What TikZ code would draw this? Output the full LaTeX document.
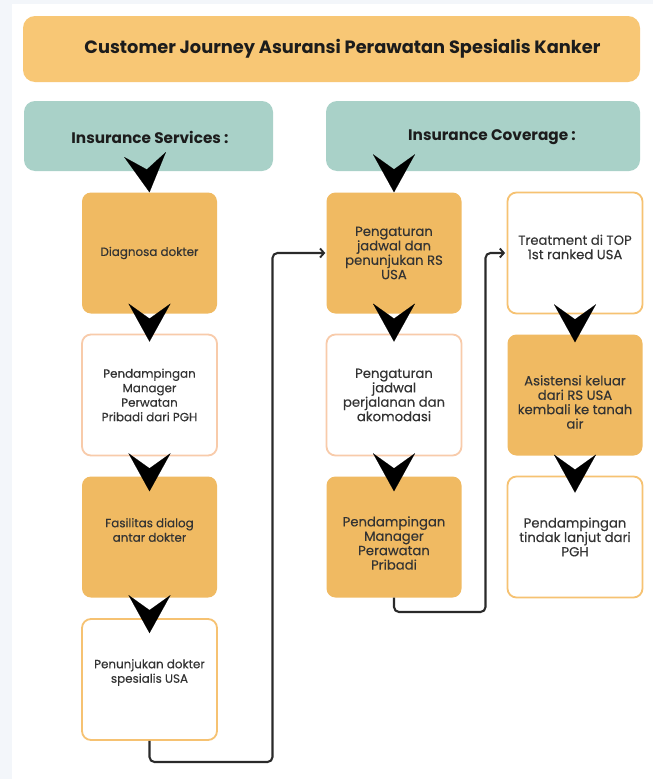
\documentclass[tikz,border=0pt]{standalone}
\usepackage{fontspec}
\setmainfont{Poppins}
\newfontfamily\boxfont{Poppins}[FakeBold=0.3]
\usetikzlibrary{arrows.meta}
\definecolor{pagebg}{HTML}{F3F6FA}
\definecolor{titlefill}{HTML}{F8C775}
\definecolor{boxfill}{HTML}{F0BA62}
\definecolor{teal}{HTML}{A9D1C8}
\definecolor{pinkline}{HTML}{F8CBAA}
\definecolor{orangeline}{HTML}{F6C272}
\definecolor{ink}{HTML}{1C1C1C}
\definecolor{txt}{HTML}{333333}
\definecolor{connc}{HTML}{2A2A2A}
\tikzset{
  base/.style={rectangle, rounded corners=9pt, minimum width=135pt, minimum height=121pt, inner sep=0pt},
  filled/.style={base, fill=boxfill},
  pinkbox/.style={base, fill=white, draw=pinkline, line width=1.8pt},
  orangebox/.style={base, fill=white, draw=orangeline, line width=1.8pt},
  head/.style={rectangle, rounded corners=11pt, fill=teal, inner sep=0pt, minimum height=70pt},
  headtxt/.style={font=\fontsize{15.3}{17}\selectfont\bfseries, text=ink},
  lbl/.style={font=\boxfont\fontsize{11.9}{14.5}\selectfont, text=txt, align=center},
  lblw/.style={font=\boxfont\fontsize{13.2}{14.4}\selectfont, text=txt, align=center},
  chev/.style={line width=0.1pt, black, line cap=butt, dash pattern=on 0pt off 600pt,
    -{Stealth[length=38pt, width=42pt, inset=15pt]}},
  conn/.style={line width=2.1pt, connc, rounded corners=5pt, -{Straight Barb[length=4pt, width=9pt, line width=1.9pt]}}
}
\begin{document}
\begin{tikzpicture}[x=1pt, y=-1pt]
\useasboundingbox (0,0) rectangle (653,779);
\fill[pagebg] (0,0) rectangle (653,779);
\fill[white] (12,4) rectangle (653,779);

% title
\node[rectangle, rounded corners=12pt, fill=titlefill, minimum width=617pt, minimum height=66pt, inner sep=0pt,
  label={[xshift=11pt, font=\fontsize{17.8}{20}\selectfont\bfseries, text=ink]center:Customer Journey Asuransi Perawatan Spesialis Kanker}]
  (title) at (331.5,49) {};

% headers
\node[head, minimum width=249pt, label={[headtxt, xshift=1.5pt, yshift=-1pt]center:Insurance Services :}] (h1) at (148.5,136) {};
\node[head, minimum width=314pt, label={[headtxt, xshift=9pt, yshift=-1pt]center:Insurance Coverage :}] (h2) at (483,136) {};

% left column
\node[filled, label={[lbl]center:Diagnosa dokter}] (l1) at (149.5,253) {};
\node[pinkbox, label={[lbl]center:Pendampingan\\Manager\\Perwatan\\Pribadi dari PGH}] (l2) at (149.5,395) {};
\node[filled, label={[lbl, yshift=7pt]center:Fasilitas dialog\\antar dokter}] (l3) at (149.5,537) {};
\node[orangebox, label={[lbl, yshift=7pt]center:Penunjukan dokter\\spesialis USA}] (l4) at (149.5,679.5) {};

% middle column
\node[filled, label={[lblw]center:Pengaturan\\jadwal dan\\penunjukan RS\\USA}] (m1) at (394,253) {};
\node[pinkbox, label={[lblw]center:Pengaturan\\jadwal\\perjalanan dan\\akomodasi}] (m2) at (394,395) {};
\node[filled, label={[lblw, yshift=-6pt]center:Pendampingan\\Manager\\Perawatan\\Pribadi}] (m3) at (394,537) {};

% right column
\node[orangebox, label={[lblw, yshift=6pt]center:Treatment di TOP\\1st ranked USA}] (r1) at (575,253) {};
\node[filled, label={[lblw, yshift=-7pt]center:Asistensi keluar\\dari RS USA\\kembali ke tanah\\air}] (r2) at (575,395) {};
\node[orangebox, label={[lblw]center:Pendampingan\\tindak lanjut dari\\PGH}] (r3) at (575,537) {};

% chevron arrows
\draw[chev] ([xshift=-1.5pt]h1.south) -- (l1.north);
\draw[chev] (l1.south) -- ([yshift=-8pt]l2.north);
\draw[chev] (l2.south) -- ([yshift=-15pt]l3.north);
\draw[chev] (l3.south) -- ([yshift=-15pt]l4.north);
\draw[chev] (h2.south -| m1.north) -- (m1.north);
\draw[chev] (m1.south) -- ([yshift=-8pt]m2.north);
\draw[chev] (m2.south) -- ([yshift=-15pt]m3.north);
\draw[chev] (r1.south) -- ([yshift=-8pt]r2.north);
\draw[chev] (r2.south) -- ([yshift=-17pt]r3.north);

% connectors
\coordinate (c1) at (272.5,762);
\coordinate (c2) at (485.5,612);
\draw[conn] (l4.south) |- (c1) |- ([xshift=-1pt]m1.west);
\draw[conn] (m3.south) |- (c2) |- ([xshift=-1.5pt]r1.west);
\end{tikzpicture}
\end{document}
